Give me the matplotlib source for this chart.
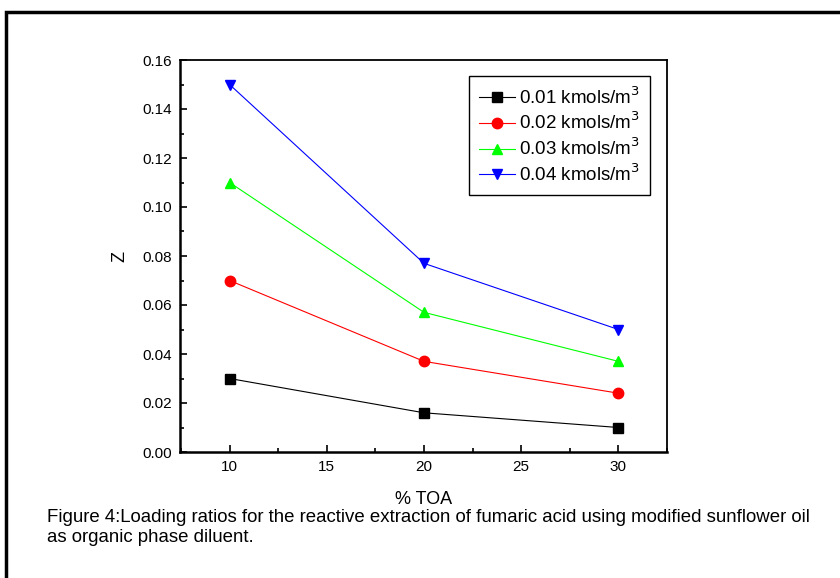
import matplotlib
matplotlib.use('Agg')
import matplotlib.pyplot as plt
from matplotlib.patches import Rectangle
from matplotlib.ticker import MultipleLocator

plt.rcParams['font.family'] = ['Liberation Sans', 'DejaVu Sans']

toa = [10, 20, 30]
z_001 = [0.030, 0.016, 0.010]
z_002 = [0.070, 0.037, 0.024]
z_003 = [0.110, 0.057, 0.037]
z_004 = [0.150, 0.077, 0.050]
labels = ['0.01 kmols/m$^3$', '0.02 kmols/m$^3$', '0.03 kmols/m$^3$', '0.04 kmols/m$^3$']

fig = plt.figure(figsize=(8.4, 5.78), dpi=100)
W, H = 840, 578
ax = fig.add_axes([180/W, 1-452/H, (667-180)/W, (452-60)/H])

ax.plot(toa, z_001, '-s', color='black', lw=0.8, ms=6.5, label=labels[0])
ax.plot(toa, z_002, '-o', color='red', lw=0.8, ms=7.5, label=labels[1])
ax.plot(toa, z_003, '-^', color='#00ff00', lw=0.8, ms=7.5, label=labels[2])
ax.plot(toa, z_004, '-v', color='blue', mec='blue', lw=0.8, ms=7.5, label=labels[3])

ax.set_xlim(7.45, 32.5)
ax.set_ylim(0, 0.16)
ax.xaxis.set_major_locator(MultipleLocator(5))
ax.xaxis.set_minor_locator(MultipleLocator(2.5))
ax.yaxis.set_major_locator(MultipleLocator(0.02))
ax.yaxis.set_minor_locator(MultipleLocator(0.01))
ax.set_yticklabels([f'{v:.2f}' for v in ax.get_yticks()])
ax.tick_params(which='both', direction='in', labelsize=11, width=1.2, pad=6)
ax.tick_params(which='major', length=5)
ax.tick_params(which='minor', length=3)
for s in ['left', 'bottom']:
    ax.spines[s].set_linewidth(1.8)
for s in ['top', 'right']:
    ax.spines[s].set_linewidth(1.3)
ax.set_xlabel('% TOA', fontsize=13, labelpad=12)
ax.set_ylabel('Z', fontsize=13, labelpad=10)

leg = ax.legend(loc='upper left', bbox_to_anchor=((469-180)/487, 1-(76-60)/392), fontsize=13.5,
                fancybox=False, framealpha=1, edgecolor='black', handlelength=1.9,
                handletextpad=0.2, borderpad=0.55, borderaxespad=0, labelspacing=0.22)
leg.get_frame().set_linewidth(1.0)

fig.text(47/W, 1-517/H, 'Figure 4:Loading ratios for the reactive extraction of fumaric acid using modified sunflower oil',
         fontsize=13.4, va='center')
fig.text(47/W, 1-537/H, 'as organic phase diluent.', fontsize=13.4, va='center')

fig.patches.append(Rectangle((5.5/W, -0.1), 1.2, 1 - 12/H + 0.1, transform=fig.transFigure,
                             fill=False, lw=2.5, edgecolor='black'))

fig.savefig('out.png', dpi=100)
